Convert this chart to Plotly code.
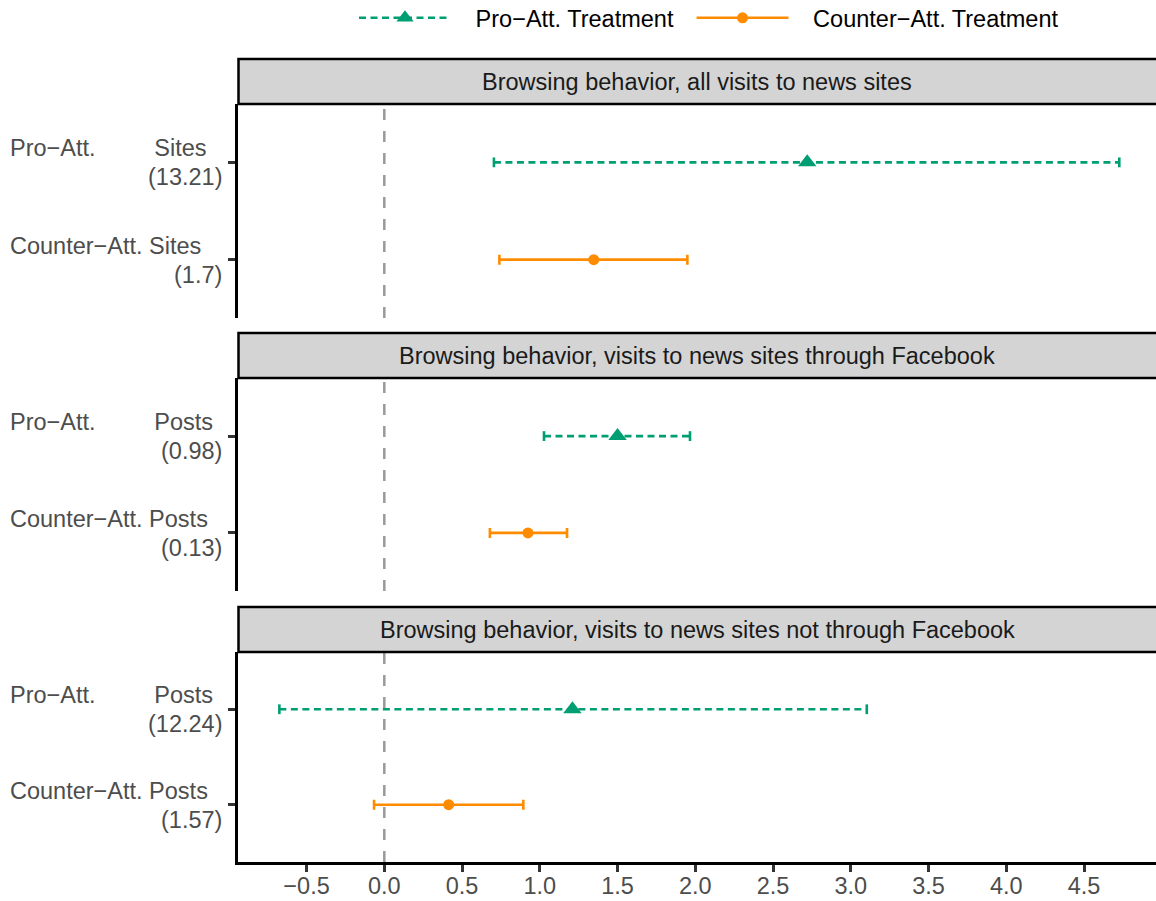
import plotly.graph_objects as go

# ---------------- data ----------------
panel_titles = [
    "Browsing behavior, all visits to news sites",
    "Browsing behavior, visits to news sites through Facebook",
    "Browsing behavior, visits to news sites not through Facebook",
]
group_labels = ["Pro\u2212Att.", "Counter\u2212Att."]
outcome_words = ["Sites", "Posts", "Posts"]
pro_baselines = ["(13.21)", "(0.98)", "(12.24)"]
counter_baselines = ["(1.7)", "(0.13)", "(1.57)"]

pro_est = [2.72, 1.50, 1.21]
pro_lo = [0.705, 1.027, -0.675]
pro_hi = [4.727, 1.966, 3.103]

counter_est = [1.347, 0.924, 0.414]
counter_lo = [0.740, 0.679, -0.066]
counter_hi = [1.949, 1.175, 0.894]

series_names = ["Pro\u2212Att. Treatment", "Counter\u2212Att. Treatment"]
x_tick_vals = [-0.5, 0.0, 0.5, 1.0, 1.5, 2.0, 2.5, 3.0, 3.5, 4.0, 4.5]
x_tick_text = ["\u22120.5", "0.0", "0.5", "1.0", "1.5", "2.0", "2.5", "3.0", "3.5", "4.0", "4.5"]

# ---------------- style ----------------
W, H = 1156, 901
GREEN = "#009E73"
ORANGE = "#FF8C00"
FONT = "Liberation Sans, Arial, sans-serif"
FS = 23.5
AXIS_TXT = "#4d4d4d"
NBSP = "\u00a0"

POS_PRO, POS_COUNTER = 2, 1

# panel extents in pixels (top, bottom) and strips
panels_px = [(104, 318), (378, 591), (652, 862)]
strips_px = [(59, 104), (333, 378), (607, 652)]
x_left_px = 238


def py(px):
    return 1 - px / H


fig = go.Figure()

for i in range(3):
    xa = "x" if i == 0 else f"x{i+1}"
    ya = "y" if i == 0 else f"y{i+1}"
    # pro: dashed CI line
    fig.add_trace(go.Scatter(
        x=[pro_lo[i], pro_hi[i]], y=[POS_PRO, POS_PRO], mode="lines",
        line=dict(color=GREEN, width=2.6, dash="7px,4.5px"),
        xaxis=xa, yaxis=ya, showlegend=False, hoverinfo="skip"))
    # pro: caps
    fig.add_trace(go.Scatter(
        x=[pro_lo[i], pro_hi[i]], y=[POS_PRO, POS_PRO], mode="markers",
        marker=dict(symbol="line-ns", size=7, line=dict(color=GREEN, width=2.6)),
        xaxis=xa, yaxis=ya, showlegend=False, hoverinfo="skip"))
    # pro: point
    fig.add_trace(go.Scatter(
        x=[pro_est[i]], y=[POS_PRO], mode="markers",
        marker=dict(symbol="triangle-up", size=16, color=GREEN),
        xaxis=xa, yaxis=ya, showlegend=False))
    # counter: point with error bars
    fig.add_trace(go.Scatter(
        x=[counter_est[i]], y=[POS_COUNTER], mode="markers",
        marker=dict(symbol="circle", size=11, color=ORANGE),
        error_x=dict(type="data", symmetric=False,
                     array=[counter_hi[i] - counter_est[i]],
                     arrayminus=[counter_est[i] - counter_lo[i]],
                     color=ORANGE, thickness=2.6, width=5),
        xaxis=xa, yaxis=ya, showlegend=False))

# legend-only traces
fig.add_trace(go.Scatter(
    x=[None], y=[None], mode="lines+markers",
    name=NBSP * 3 + series_names[0] + NBSP * 2,
    line=dict(color=GREEN, width=2.6, dash="7px,4.5px"),
    marker=dict(symbol="triangle-up", size=15, color=GREEN)))
fig.add_trace(go.Scatter(
    x=[None], y=[None], mode="lines+markers",
    name=NBSP * 3 + series_names[1],
    line=dict(color=ORANGE, width=2.6),
    marker=dict(symbol="circle", size=11, color=ORANGE)))

shapes = []
annotations = []
layout_axes = {}
for i in range(3):
    sfx = "" if i == 0 else str(i + 1)
    top, bot = panels_px[i]
    xaxis = dict(
        domain=[x_left_px / W, 1], range=[-0.941, 4.963],
        anchor=f"y{sfx}", showgrid=False, zeroline=False,
        tickvals=x_tick_vals, ticktext=x_tick_text,
    )
    if i == 2:
        xaxis.update(showline=True, linecolor="black", linewidth=2.5,
                     ticks="outside", ticklen=7, tickwidth=2.5, tickcolor="#333333",
                     showticklabels=True, ticklabelstandoff=-6,
                     tickfont=dict(family=FONT, size=FS, color=AXIS_TXT))
    else:
        xaxis.update(showline=False, ticks="", showticklabels=False, matches="x3")
    yaxis = dict(
        domain=[py(bot), py(top)], range=[0.4, 2.6], anchor=f"x{sfx}",
        showgrid=False, zeroline=False, showline=True, linecolor="black", linewidth=2.5,
        ticks="outside", ticklen=7, tickwidth=2.5, tickcolor="#333333",
        tickvals=[POS_COUNTER, POS_PRO], showticklabels=False,
    )
    layout_axes[f"xaxis{sfx}"] = xaxis
    layout_axes[f"yaxis{sfx}"] = yaxis

    # zero reference line
    shapes.append(dict(type="line", xref=f"x{sfx}", yref=f"y{sfx} domain",
                       x0=0, x1=0, y0=0, y1=1,
                       line=dict(color="#999999", width=2.5, dash="11px,11px"), layer="below"))
    # strip
    s_top, s_bot = strips_px[i]
    shapes.append(dict(type="rect", xref="paper", yref="paper",
                       x0=(x_left_px + 0.5) / W, x1=1.01, y0=py(s_bot), y1=py(s_top),
                       fillcolor="#d4d4d4", line=dict(color="black", width=2.5)))
    annotations.append(dict(text=panel_titles[i], xref="paper", yref="paper",
                            x=((x_left_px + 0.5) / W + 1) / 2, y=py((s_top + s_bot) / 2),
                            xanchor="center", yanchor="middle", showarrow=False,
                            font=dict(family=FONT, size=FS, color="#1a1a1a")))
    # y labels
    yr = f"y{sfx}"
    line1_pro = group_labels[0] + NBSP * 9 + outcome_words[i]
    line1_counter = group_labels[1] + " " + outcome_words[i]
    for pos, l1, l2 in [(POS_PRO, line1_pro, pro_baselines[i]),
                        (POS_COUNTER, line1_counter, counter_baselines[i])]:
        annotations.append(dict(text=l1, xref="paper", yref=yr, x=8 / W, y=pos,
                                xanchor="left", yanchor="middle", yshift=14,
                                showarrow=False,
                                font=dict(family=FONT, size=FS, color=AXIS_TXT)))
        annotations.append(dict(text=l2, xref="paper", yref=yr, x=224 / W, y=pos,
                                xanchor="right", yanchor="middle", yshift=-15,
                                showarrow=False,
                                font=dict(family=FONT, size=FS, color=AXIS_TXT)))

fig.update_layout(
    width=W, height=H, margin=dict(l=0, r=0, t=0, b=0, autoexpand=False),
    paper_bgcolor="white", plot_bgcolor="white",
    shapes=shapes, annotations=annotations,
    legend=dict(orientation="h", x=354 / W, xanchor="left", y=1 + 4 / H, yanchor="top",
                font=dict(family=FONT, size=FS, color="black"),
                itemwidth=92, bgcolor="rgba(0,0,0,0)"),
    font=dict(family=FONT),
    **layout_axes,
)

fig.write_html("out.html")
